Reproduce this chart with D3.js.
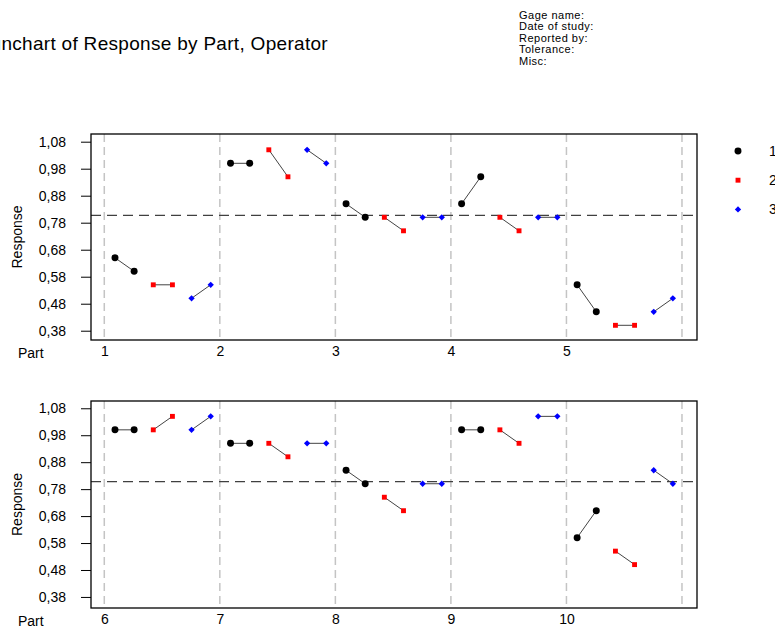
<!DOCTYPE html>
<html>
<head>
<meta charset="utf-8">
<script src="https://cdn.jsdelivr.net/npm/d3@7"></script>
<style>
  html, body { margin: 0; padding: 0; background: #fff; }
  svg { display: block; font-family: "Liberation Sans", Arial, sans-serif; }
</style>
</head>
<body>
<svg id="chart" width="775" height="630"></svg>
<script>
// Gage run chart data: two readings per part for each operator
const parts = [1, 2, 3, 4, 5, 6, 7, 8, 9, 10];
const operators = ["1", "2", "3"];
const operator1 = [0.65, 0.60, 1.00, 1.00, 0.85, 0.80, 0.85, 0.95, 0.55, 0.45,
                   1.00, 1.00, 0.95, 0.95, 0.85, 0.80, 1.00, 1.00, 0.60, 0.70];
const operator2 = [0.55, 0.55, 1.05, 0.95, 0.80, 0.75, 0.80, 0.75, 0.40, 0.40,
                   1.00, 1.05, 0.95, 0.90, 0.75, 0.70, 1.00, 0.95, 0.55, 0.50];
const operator3 = [0.50, 0.55, 1.05, 1.00, 0.80, 0.80, 0.80, 0.80, 0.45, 0.50,
                   1.00, 1.05, 0.95, 0.95, 0.80, 0.80, 1.05, 1.05, 0.85, 0.80];
const yTickValues = [0.38, 0.48, 0.58, 0.68, 0.78, 0.88, 0.98, 1.08];
const headerLines = ["Gage name:", "Date of study:", "Reported by:", "Tolerance:", "Misc:"];

const seriesByOperator = [operator1, operator2, operator3];
const colors = ["#000000", "#ff0000", "#0000ff"];

// Marker shapes: filled circle, square, and a square turned 45 degrees
const markerPath = [
  d3.symbol().type(d3.symbolCircle).size(38)(),
  d3.symbol().type(d3.symbolSquare).size(24)(),
  d3.symbol().type(d3.symbolSquare).size(20)()
];
const markerRotate = [0, 0, 45];

const svg = d3.select("#chart");
const fmt = v => d3.format(".2f")(v).replace(".", ",");

const allValues = seriesByOperator.flat();
const grandMean = d3.mean(allValues);

// Title and study header
svg.append("text")
  .attr("x", 328).attr("y", 50)
  .attr("text-anchor", "end")
  .attr("font-size", 19)
  .attr("letter-spacing", 0.3)
  .text("Gage Runchart of Response by Part, Operator");

svg.append("g").selectAll("text")
  .data(headerLines).join("text")
  .attr("x", 519).attr("y", (d, i) => 19 + i * 11.4)
  .attr("font-size", 11)
  .attr("letter-spacing", 0.5)
  .text(d => d);

// Panels: parts 1-5 on top, parts 6-10 below
const panels = [
  { parts: parts.slice(0, 5), top: 134, bottom: 340, yDomain: [0.3456, 1.1085], labelY: 358 },
  { parts: parts.slice(5, 10), top: 401, bottom: 608, yDomain: [0.339, 1.107], labelY: 626 }
];
const left = 91, right = 697;

panels.forEach(panel => {
  const first = panel.parts[0];
  const x = d3.scaleLinear().domain([first - 0.115, first + 5.13]).range([left, right]);
  const y = d3.scaleLinear().domain(panel.yDomain).range([panel.bottom, panel.top]);
  const g = svg.append("g");

  // Vertical part separators
  const gridParts = d3.range(first, first + 6);
  g.selectAll("line.grid").data(gridParts).join("line")
    .attr("x1", d => x(d)).attr("x2", d => x(d))
    .attr("y1", panel.top).attr("y2", panel.bottom)
    .attr("stroke", "#c4c4c4").attr("stroke-width", 1.5)
    .attr("stroke-dasharray", "8,5");

  // Grand mean reference line
  g.append("line")
    .attr("x1", left).attr("x2", right)
    .attr("y1", y(grandMean)).attr("y2", y(grandMean))
    .attr("stroke", "#404040").attr("stroke-width", 1.3)
    .attr("stroke-dasharray", "10,6");

  // Y axis
  const yAxis = d3.axisLeft(y).tickValues(yTickValues).tickFormat(fmt).tickSize(10).tickPadding(15);
  const ya = g.append("g").attr("transform", `translate(${left},0)`).call(yAxis);
  ya.select(".domain").remove();
  ya.selectAll(".tick line").attr("stroke", "#000");
  ya.selectAll(".tick text").attr("font-size", 14).attr("font-family", "Liberation Sans, Arial, sans-serif").attr("fill", "#000");

  // X axis labels (part numbers)
  const xAxis = d3.axisBottom(x).tickValues(panel.parts).tickFormat(d3.format("d")).tickSize(0).tickPadding(0);
  const xa = g.append("g").attr("transform", `translate(0,${panel.labelY - 12})`).call(xAxis);
  xa.select(".domain").remove();
  xa.selectAll(".tick text").attr("font-size", 14).attr("font-family", "Liberation Sans, Arial, sans-serif").attr("fill", "#000");

  g.append("text").attr("x", 18).attr("y", panel.labelY)
    .attr("font-size", 14).text("Part");

  g.append("text")
    .attr("transform", `translate(22,${(panel.top + panel.bottom) / 2}) rotate(-90)`)
    .attr("text-anchor", "middle")
    .attr("font-size", 14).text("Response");

  // Readings: each part holds 6 slots (operator x replicate)
  const slot = (p, o, r) => x(p + 0.0926 + (2 * o + r) * 0.1657);
  panel.parts.forEach(p => {
    const idx = parts.indexOf(p);
    operators.forEach((op, o) => {
      const vals = seriesByOperator[o].slice(idx * 2, idx * 2 + 2);
      const pts = vals.map((v, r) => [slot(p, o, r), y(v)]);
      g.append("path")
        .attr("d", d3.line()(pts))
        .attr("stroke", "#444").attr("stroke-width", 1).attr("fill", "none");
      g.selectAll(null).data(pts).join("path")
        .attr("transform", d => `translate(${d[0]},${d[1]}) rotate(${markerRotate[o]})`)
        .attr("d", markerPath[o])
        .attr("fill", colors[o]);
    });
  });

  // Frame
  g.append("rect")
    .attr("x", left).attr("y", panel.top)
    .attr("width", right - left).attr("height", panel.bottom - panel.top)
    .attr("fill", "none").attr("stroke", "#000").attr("stroke-width", 1.3);
});

// Legend
const legend = svg.append("g");
operators.forEach((op, o) => {
  const ly = 151 + o * 29.2;
  legend.append("path")
    .attr("transform", `translate(738,${ly}) rotate(${markerRotate[o]})`)
    .attr("d", markerPath[o])
    .attr("fill", colors[o]);
  legend.append("text")
    .attr("x", 769).attr("y", ly + 5)
    .attr("font-size", 14).text(op);
});
</script>
</body>
</html>
